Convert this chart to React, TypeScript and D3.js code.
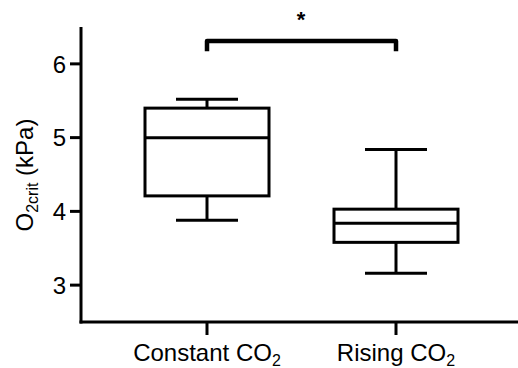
import * as d3 from 'd3';

const categories = ['Constant', 'Rising'];
const whiskerMin = [3.88, 3.16];
const q1 = [4.21, 3.58];
const median = [5.0, 3.84];
const q3 = [5.4, 4.03];
const whiskerMax = [5.52, 4.84];
const yTicks = [3, 4, 5, 6];

const W = 518;
const H = 368;

const App = () => {
  const y = d3.scaleLinear().domain([2.5, 6.5]).range([322, 27]);
  const x = d3.scalePoint<string>().domain(categories).range([207, 396]);
  const boxW = 124;
  const capW = 62;
  const font = 'Liberation Sans, Arial, sans-serif';

  return (
    <svg width={W} height={H} style={{ position: 'absolute', left: 0, top: 0 }}>
      <rect width={W} height={H} fill="#fff" />
      {/* axes */}
      <line x1={81} x2={81} y1={y(6.5)} y2={323.5} stroke="#000" strokeWidth={3} />
      <line x1={79.5} x2={W} y1={322} y2={322} stroke="#000" strokeWidth={3} />
      {yTicks.map((t) => (
        <g key={t}>
          <line x1={70} x2={81} y1={y(t)} y2={y(t)} stroke="#000" strokeWidth={3} />
          <text x={66} y={y(t)} dy="0.36em" textAnchor="end" fontFamily={font} fontSize={24}>
            {t}
          </text>
        </g>
      ))}
      {categories.map((c) => (
        <g key={c}>
          <line x1={x(c)} x2={x(c)} y1={322} y2={335} stroke="#000" strokeWidth={3} />
          <text x={x(c)} y={361} textAnchor="middle" fontFamily={font} fontSize={24}>
            {c} CO<tspan fontSize={16} dy={5}>2</tspan>
          </text>
        </g>
      ))}
      <text
        transform={`translate(33, 175) rotate(-90)`}
        textAnchor="middle"
        fontFamily={font}
        fontSize={24}
      >
        O<tspan fontSize={16} dy={5}>2crit</tspan>
        <tspan dy={-5}> (kPa)</tspan>
      </text>
      {/* boxes */}
      {categories.map((c, i) => {
        const cx = x(c) ?? 0;
        return (
          <g key={c} stroke="#000" strokeWidth={3} fill="none">
            <line x1={cx} x2={cx} y1={y(whiskerMax[i])} y2={y(q3[i])} />
            <line x1={cx} x2={cx} y1={y(q1[i])} y2={y(whiskerMin[i])} />
            <line x1={cx - capW / 2} x2={cx + capW / 2} y1={y(whiskerMax[i])} y2={y(whiskerMax[i])} />
            <line x1={cx - capW / 2} x2={cx + capW / 2} y1={y(whiskerMin[i])} y2={y(whiskerMin[i])} />
            <rect x={cx - boxW / 2} y={y(q3[i])} width={boxW} height={y(q1[i]) - y(q3[i])} />
            <line x1={cx - boxW / 2} x2={cx + boxW / 2} y1={y(median[i])} y2={y(median[i])} />
          </g>
        );
      })}
      {/* significance bracket */}
      <path
        d={`M${x('Constant')},${y(6.2) + 2} V41 H${x('Rising')} V${y(6.2) + 2}`}
        fill="none"
        stroke="#000"
        strokeWidth={4.5}
        strokeLinejoin="round"
      />
      <text x={301} y={27} textAnchor="middle" fontFamily={font} fontSize={22} fontWeight="bold">
        *
      </text>
    </svg>
  );
};

export default App;
